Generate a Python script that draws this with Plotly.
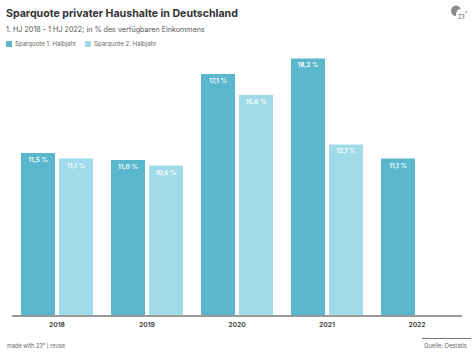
import plotly.graph_objects as go

years = ["2018", "2019", "2020", "2021", "2022"]
h1 = [11.5, 11.0, 17.1, 18.2, 11.1]
h2 = [11.1, 10.6, 15.6, 12.1, None]
h1_labels = ["11,5 %", "11,0 %", "17,1 %", "18,2 %", "11,1 %"]
h2_labels = ["11,1 %", "10,6 %", "15,6 %", "12,1 %", ""]
FONT = "Inter"
W, H = 474, 355
L, R, T, B = 12, 12, 50, 40

def px(x): return (x - L) / (W - L - R)
def py(y): return 1 - (y - T) / (H - T - B)

fig = go.Figure()
for name, vals, labs, col in [("Sparquote 1. Halbjahr", h1, h1_labels, "#5BB7CE"),
                              ("Sparquote 2. Halbjahr", h2, h2_labels, "#A1DAE9")]:
    fig.add_bar(name=name, x=years, y=vals, text=labs, marker_color=col, marker_line_width=0,
                textposition="inside", insidetextanchor="end", textangle=0, cliponaxis=False,
                textfont=dict(family=FONT, size=6.5, color="white", weight=600))

def note(x, y, text, size, color="#333333", anchor="left", weight=400, family=FONT):
    fig.add_annotation(xref="paper", yref="paper", x=px(x), y=py(y), text=text, showarrow=False,
                       xanchor=anchor, yanchor="middle", align=anchor, borderpad=0, borderwidth=0,
                       font=dict(family=family, size=size, color=color, weight=weight))

note(5.5, 13, "Sparquote privater Haushalte in Deutschland", 10.6, "#333333", weight=700)
note(5.5, 29, "1. HJ 2018 - 1 HJ 2022; in % des verfügbaren Einkommens", 7.2, "#555555")
note(15, 44, "Sparquote 1. Halbjahr", 6.1, "#666666")
note(94, 44, "Sparquote 2. Halbjahr", 6.1, "#666666")
note(7, 345.5, "made with 23° | reuse", 5.6, "#666666")
note(424, 345.5, "Quelle: Destatis", 5.8, "#666666")

def rect(x0, y0, x1, y1, color):
    fig.add_shape(type="rect", xref="paper", yref="paper", x0=px(x0), x1=px(x1), y0=py(y0), y1=py(y1),
                  fillcolor=color, line_width=0, layer="above")

rect(6, 41, 12, 47, "#5BB7CE")
rect(85, 41, 91, 47, "#A1DAE9")
fig.add_shape(type="line", xref="paper", yref="paper", x0=px(422), x1=px(471), y0=py(338.5), y1=py(338.5),
              line=dict(color="#777777", width=1))
fig.add_shape(type="circle", xref="paper", yref="paper", x0=px(451), x1=px(461), y0=py(5.5), y1=py(16),
              fillcolor="#8a8a8a", line_width=0)
fig.add_shape(type="circle", xref="paper", yref="paper", x0=px(456), x1=px(464), y0=py(9), y1=py(21),
              fillcolor="white", line_width=0)
note(461, 17.5, "23", 5.5, "#555555", anchor="center")
note(465.5, 13, "°", 5, "#888888", anchor="center")

fig.update_layout(
    width=W, height=H, autosize=False, barmode="group", bargap=0.1556, bargroupgap=0.105,
    margin=dict(l=L, r=R, t=T, b=B), paper_bgcolor="white", plot_bgcolor="white", showlegend=False,
    font=dict(family=FONT),
    xaxis=dict(showline=True, linecolor="#999999", linewidth=1.5, ticks="", showgrid=False,
               tickfont=dict(family=FONT, size=6.8, color="#333333", weight=600), ticklabelstandoff=2),
    yaxis=dict(visible=False, range=[0, 18.8], showgrid=False),
)
fig.write_html("out.html", config={"displayModeBar": False},
               post_script="document.body.style.margin='0';document.documentElement.style.overflow='hidden';")
